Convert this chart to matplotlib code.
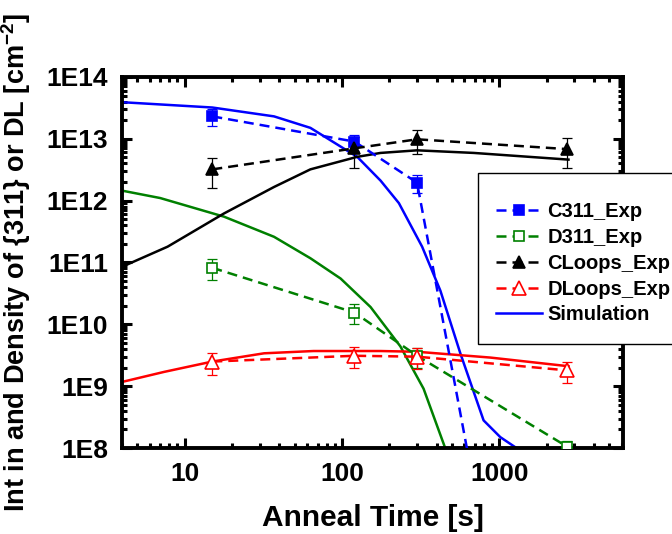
import numpy as np
import matplotlib
matplotlib.use("Agg")
from matplotlib import pyplot as plt
from matplotlib.ticker import LogLocator, FuncFormatter, NullFormatter
from matplotlib.patches import Rectangle

plt.rcParams["font.family"] = ["Liberation Sans", "DejaVu Sans"]
plt.rcParams["font.weight"] = "bold"
plt.rcParams["mathtext.fontset"] = "custom"
plt.rcParams["mathtext.rm"] = "Liberation Sans:bold"
plt.rcParams["mathtext.bf"] = "Liberation Sans:bold"
plt.rcParams["mathtext.default"] = "bf"

# experiment, anneal time [s]
t_exp = [15, 120, 300, 2700]
t_c311 = [15, 120, 300, 700]          # last C311 point sits below 1E8
c311 = [2.3e13, 9.0e12, 1.95e12, 2.0e7]
c311_err = [7e12, 2.7e12, 6e11, 6e6]
d311 = [8.2e10, 1.55e10, 3.1e9, 1.05e8]
d311_err = [3e10, 5.5e9, 1.1e9, 2.3e7]
cloops = [3.2e12, 7.0e12, 9.8e12, 6.8e12]
cloops_err = [1.6e12, 3.6e12, 4.2e12, 3.4e12]
dloops = [2.5e9, 3.1e9, 3.0e9, 1.8e9]
dloops_err = [1.0e9, 1.15e9, 1.1e9, 0.67e9]

# simulation curves
t_sim_c311 = [4, 15, 37, 63, 125, 176, 230, 323, 422, 565, 794, 1014, 1300]
sim_c311 = [3.9e13, 3.2e13, 2.3e13, 1.5e13, 5.1e12, 2.1e12, 9.1e11, 1.8e11,
            3.5e10, 3.4e9, 2.8e8, 1.5e8, 9.8e7]
t_sim_d311 = [4, 7, 17.8, 37, 63, 98, 152, 235, 330, 454]
sim_d311 = [1.45e12, 1.1e12, 5.5e11, 2.6e11, 1.17e11, 5.5e10, 1.9e10, 4.4e9,
            9.1e8, 9.8e7]
t_sim_cl = [4, 7.8, 17.8, 37, 63, 125, 176, 300, 687, 2750]
sim_cl = [8.5e10, 1.8e11, 6.2e11, 1.66e12, 3.2e12, 5.1e12, 5.9e12, 6.5e12,
          5.9e12, 4.6e12]
t_sim_dl = [4, 7.4, 15, 32, 66, 176, 300, 877, 2750]
sim_dl = [1.17e9, 1.7e9, 2.5e9, 3.4e9, 3.7e9, 3.7e9, 3.6e9, 2.9e9, 2.1e9]

BLUE, GREEN, BLACK, RED = "#0000ff", "#008000", "#000000", "#ff0000"
DASH = (4, 2.4)

fig = plt.figure(figsize=(6.72, 5.34), dpi=100)
ax = fig.add_axes([0.1815, 0.161, 0.7455, 0.695])

exp = [
    (t_c311, c311, c311_err, BLUE, "s", BLUE, 7, "C311_Exp"),
    (t_exp, d311, d311_err, GREEN, "s", "white", 7, "D311_Exp"),
    (t_exp, cloops, cloops_err, BLACK, "^", BLACK, 9, "CLoops_Exp"),
    (t_exp, dloops, dloops_err, RED, "^", "white", 10, "DLoops_Exp"),
]
handles = []
for t, y, e, c, m, mfc, ms, lab in exp:
    ax.errorbar(t, y, yerr=e, fmt="none", ecolor=c, elinewidth=0.9, capsize=3.3,
                capthick=0.9, zorder=3)
    h, = ax.plot(t, y, ls="--", dashes=DASH, color=c, lw=1.8, marker=m, ms=ms,
                 mfc=mfc, mec=c, mew=1.2, label=lab, zorder=4)
    handles.append(h)

hs, = ax.plot(t_sim_c311, sim_c311, "-", color=BLUE, lw=1.8, label="Simulation", zorder=2)
ax.plot(t_sim_d311, sim_d311, "-", color=GREEN, lw=1.8, zorder=2)
ax.plot(t_sim_cl, sim_cl, "-", color=BLACK, lw=1.8, zorder=2)
ax.plot(t_sim_dl, sim_dl, "-", color=RED, lw=1.8, zorder=2)
handles.append(hs)

ax.set_xscale("log"); ax.set_yscale("log")
ax.set_xlim(4, 6100); ax.set_ylim(1e8, 1e14)
ax.xaxis.set_major_locator(LogLocator(base=10, numticks=10))
ax.xaxis.set_minor_locator(LogLocator(base=10, subs=np.arange(2, 10), numticks=20))
ax.yaxis.set_major_locator(LogLocator(base=10, numticks=10))
ax.yaxis.set_minor_locator(LogLocator(base=10, subs=np.arange(2, 10), numticks=20))
ax.xaxis.set_major_formatter(FuncFormatter(lambda v, p: f"{v:.0f}"))
ax.yaxis.set_major_formatter(FuncFormatter(lambda v, p: f"1E{int(round(np.log10(v)))}"))
ax.xaxis.set_minor_formatter(NullFormatter()); ax.yaxis.set_minor_formatter(NullFormatter())
ax.tick_params(which="both", direction="in", top=True, right=True, width=2.2)
ax.tick_params(which="major", length=7, labelsize=19, pad=10)
ax.tick_params(which="minor", length=3.5)
for s in ax.spines.values():
    s.set_linewidth(2.8)

ax.set_xlabel("Anneal Time [s]", fontsize=21.5, fontweight="bold", labelpad=13)
ax.set_ylabel("Int in and Density of {311} or DL [cm$^{-2}$]", fontsize=19.5,
              fontweight="bold", labelpad=10)

# legend box, running past the right edge of the figure
fig.patches.append(Rectangle((478 / 672, 1 - 344 / 534), 0.4, (344 - 173) / 534,
                             transform=fig.transFigure, facecolor="white",
                             edgecolor="black", lw=1.0, zorder=3))
fig.legend(handles=handles, loc="upper left", bbox_to_anchor=(486 / 672, 1 - 192 / 534),
           frameon=False, borderpad=0, labelspacing=0.34,
           handlelength=2.3, handletextpad=0.25, prop={"weight": "bold", "size": 14.5})

fig.savefig("out.png", dpi=100)
